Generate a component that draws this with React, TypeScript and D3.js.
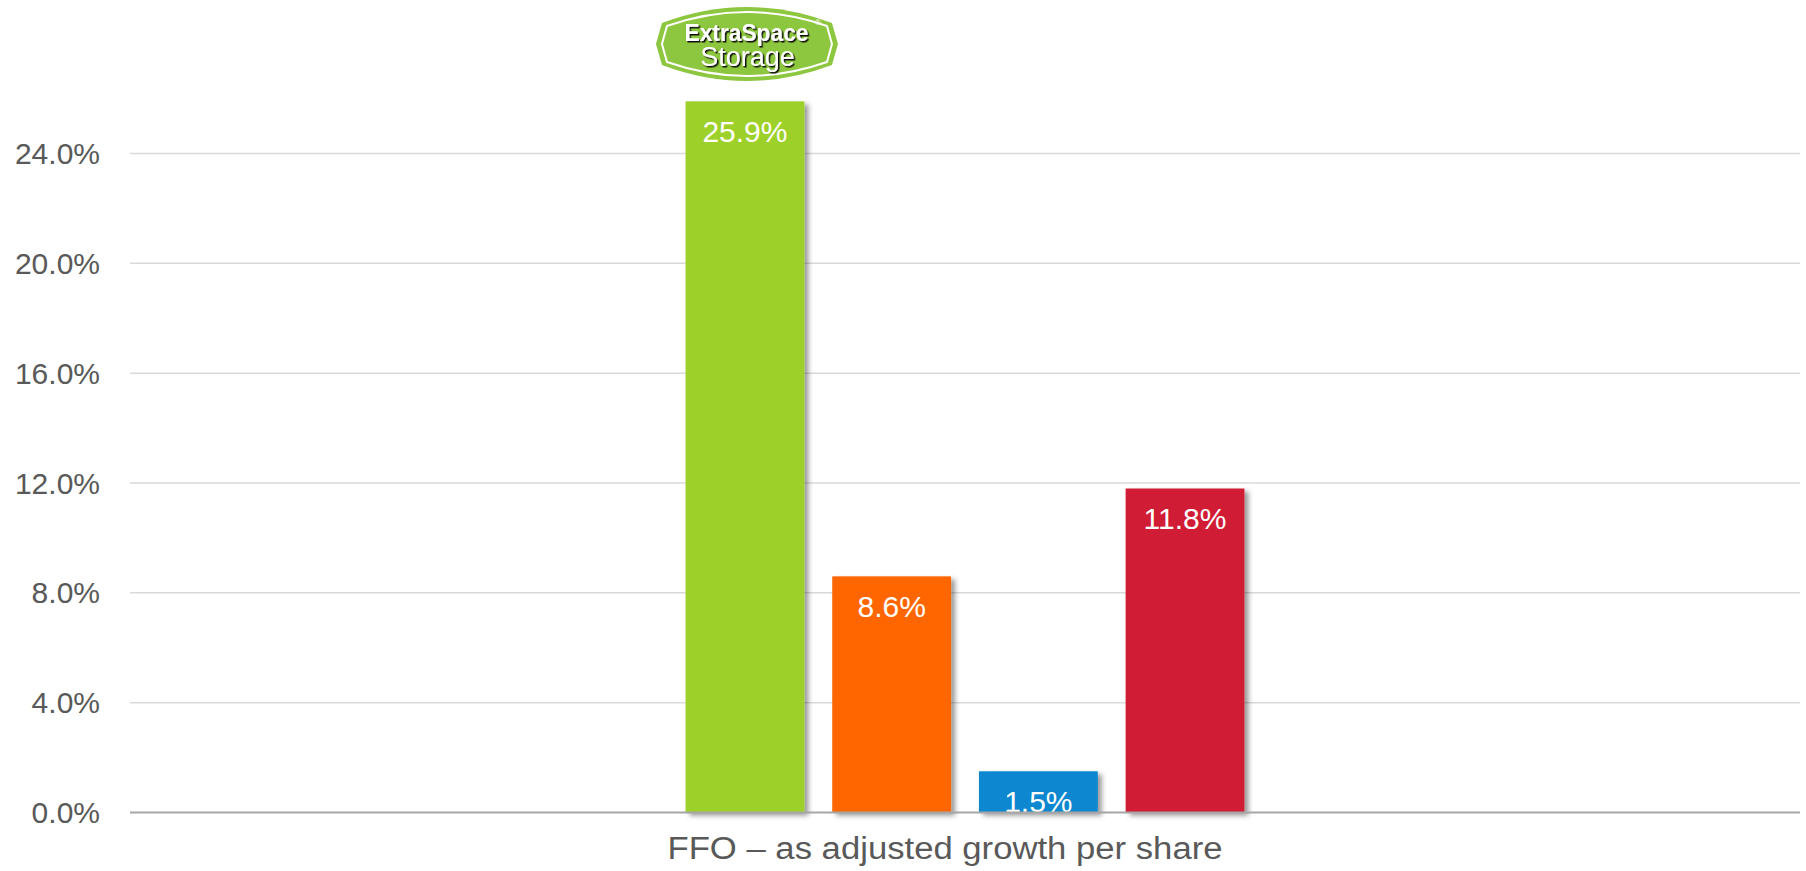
import React, { useEffect, useRef } from "react";
import * as d3 from "d3";

const categories = ["FFO – as adjusted growth per share"];
const seriesNames = ["Extra Space Storage", "Peer A", "Peer B", "Peer C"];
const seriesValues = [25.9, 8.6, 1.5, 11.8];
const seriesColors = ["#9DD12B", "#FF6600", "#0987CF", "#D11F36"];
const yTicks = [0, 4, 8, 12, 16, 20, 24];

const W = 1806;
const H = 871;
const FONT = "'Liberation Sans', Arial, sans-serif";

const App: React.FC = () => {
  const ref = useRef<SVGSVGElement | null>(null);

  useEffect(() => {
    const svg = d3.select(ref.current);
    svg.selectAll("*").remove();

    const left = 130;
    const right = 1800;
    const y = d3.scaleLinear().domain([0, 24]).range([812.5, 153.5]);

    const x0 = d3.scaleBand<string>().domain(categories).range([left, right]).paddingInner(0).paddingOuter(0.994);
    const x1 = d3.scaleBand<string>().domain(seriesNames).range([0, x0.bandwidth()]).paddingInner(0.19);

    // drop shadow like the office chart
    const defs = svg.append("defs");
    const f = defs.append("filter").attr("id", "shadow").attr("x", "-20%").attr("y", "-20%").attr("width", "140%").attr("height", "140%");
    f.append("feDropShadow").attr("dx", 4).attr("dy", 3).attr("stdDeviation", 2.5).attr("flood-color", "#000").attr("flood-opacity", 0.4);
    // hard shadow for the logo lettering
    const ts = defs.append("filter").attr("id", "txtshadow").attr("x", "-10%").attr("y", "-20%").attr("width", "120%").attr("height", "150%");
    ts.append("feDropShadow").attr("dx", 1.5).attr("dy", 1.5).attr("stdDeviation", 0.3).attr("flood-color", "#111").attr("flood-opacity", 1);

    // gridlines
    svg.append("g")
      .selectAll("line")
      .data(yTicks.filter(t => t > 0))
      .enter()
      .append("line")
      .attr("x1", left)
      .attr("x2", right)
      .attr("y1", d => y(d))
      .attr("y2", d => y(d))
      .attr("stroke", "#D9D9D9")
      .attr("stroke-width", 1.5);

    // y labels
    svg.append("g")
      .selectAll("text")
      .data(yTicks)
      .enter()
      .append("text")
      .attr("x", 100)
      .attr("y", d => y(d) + 10.5)
      .attr("text-anchor", "end")
      .attr("font-family", FONT)
      .attr("font-size", 30)
      .attr("fill", "#595959")
      .text(d => d.toFixed(1) + "%");

    const cat = categories[0];
    const gx = x0(cat) as number;

    const bars = svg.append("g")
      .selectAll("g")
      .data(seriesValues.map((v, i) => ({ name: seriesNames[i], value: v, color: seriesColors[i] })))
      .enter()
      .append("g");

    bars.append("rect")
      .attr("x", d => gx + (x1(d.name) as number))
      .attr("y", d => y(d.value))
      .attr("width", x1.bandwidth())
      .attr("height", d => y(0) - y(d.value))
      .attr("fill", d => d.color)
      .attr("filter", "url(#shadow)");

    bars.append("text")
      .attr("x", d => gx + (x1(d.name) as number) + x1.bandwidth() / 2)
      .attr("y", d => y(d.value) + 41)
      .attr("text-anchor", "middle")
      .attr("font-family", FONT)
      .attr("font-size", 30)
      .attr("fill", "#fff")
      .text(d => d.value.toFixed(1) + "%");

    // axis line
    svg.append("line")
      .attr("x1", left)
      .attr("x2", right)
      .attr("y1", y(0))
      .attr("y2", y(0))
      .attr("stroke", "#A6A6A6")
      .attr("stroke-width", 2);

    // category label (sits a bit left of the band centre in the original)
    svg.append("text")
      .attr("x", gx + x0.bandwidth() / 2 - 20)
      .attr("y", 859)
      .attr("text-anchor", "middle")
      .attr("font-family", FONT)
      .attr("font-size", 31)
      .attr("textLength", 555)
      .attr("lengthAdjust", "spacingAndGlyphs")
      .attr("fill", "#595959")
      .text(cat);

    // logo above the first bar
    const lx = gx + (x1(seriesNames[0]) as number) + x1.bandwidth() / 2;
    const logo = svg.append("g").attr("transform", `translate(${lx - 89}, 3)`);
    logo.append("path")
      .attr("d", "M6,20 Q91,-12 176,20 L182,41 L176,62 Q91,94 6,62 L0,41 Z")
      .attr("fill", "#8DC63F");
    logo.append("path")
      .attr("d", "M11,23 Q91,-5 171,23 L176,41 L171,59 Q91,87 11,59 L6,41 Z")
      .attr("fill", "none")
      .attr("stroke", "#fff")
      .attr("stroke-width", 2);
    logo.append("text").attr("x", 90.5).attr("y", 37.5).attr("text-anchor", "middle")
      .attr("font-family", FONT).attr("font-weight", "bold").attr("font-size", 23)
      .attr("textLength", 124).attr("lengthAdjust", "spacingAndGlyphs")
      .attr("fill", "#fff").attr("filter", "url(#txtshadow)").text("ExtraSpace");
    logo.append("text").attr("x", 159).attr("y", 22).attr("text-anchor", "start")
      .attr("font-family", FONT).attr("font-size", 8).attr("fill", "#fff").text("®");
    logo.append("text").attr("x", 91.5).attr("y", 63).attr("text-anchor", "middle")
      .attr("font-family", FONT).attr("font-size", 27)
      .attr("fill", "#fff").attr("filter", "url(#txtshadow)").text("Storage");
  }, []);

  return (
    <svg
      ref={ref}
      width={W}
      height={H}
      style={{ position: "absolute", left: 0, top: 0, background: "#fff" }}
    ></svg>
  );
};

export default App;
